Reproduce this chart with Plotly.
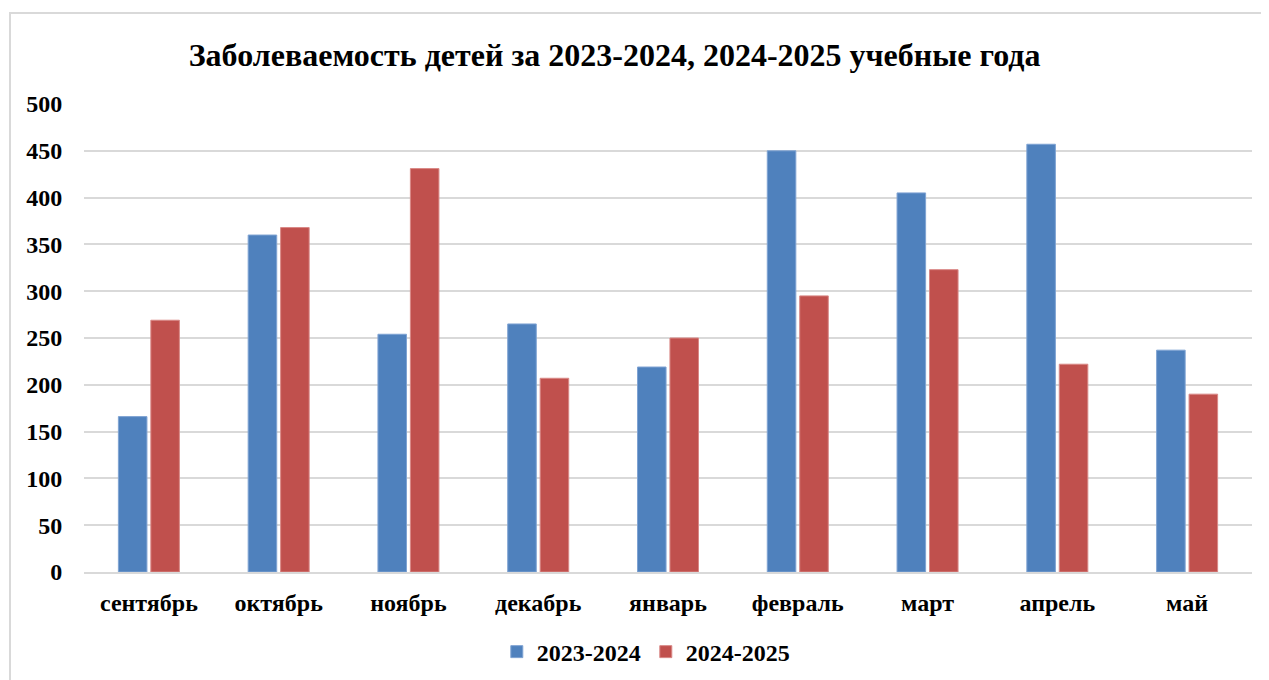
import plotly.graph_objects as go

months = ["сентябрь", "октябрь", "ноябрь", "декабрь", "январь", "февраль", "март", "апрель", "май"]
series_names = ["2023-2024", "2024-2025"]
values_2023_2024 = [166, 360, 254, 265, 219, 450, 405, 457, 237]
values_2024_2025 = [269, 368, 431, 207, 250, 295, 323, 222, 190]
y_ticks = [0, 50, 100, 150, 200, 250, 300, 350, 400, 450, 500]

FONT = "Liberation Serif, Times New Roman, serif"

fig = go.Figure()
fig.add_trace(go.Bar(x=months, y=values_2023_2024, name="<b>%s</b>" % series_names[0],
                     marker=dict(color="#4F81BD", line=dict(color="#7FA3D3", width=1))))
fig.add_trace(go.Bar(x=months, y=values_2024_2025, name="<b>%s</b>" % series_names[1],
                     marker=dict(color="#C0504D", line=dict(color="#D98886", width=1))))

fig.update_layout(
    width=1269, height=680,
    margin=dict(l=76, r=25, t=96, b=116),
    paper_bgcolor="white", plot_bgcolor="white",
    barmode="group", bargap=0.5, bargroupgap=0.12,
    font=dict(family=FONT, color="black", size=24),
    title=dict(text="<b>Заболеваемость детей за 2023-2024, 2024-2025 учебные года</b>",
               x=0.478, xanchor="center", y=0.931, yanchor="middle", yref="container",
               font=dict(family=FONT, size=32, color="black")),
    legend=dict(orientation="h", x=0.481, xanchor="center", y=-0.171, yanchor="middle",
                font=dict(family=FONT, size=24, color="black"), itemwidth=30,
                traceorder="normal"),
    showlegend=True,
)
fig.update_xaxes(showgrid=False, showline=True, linecolor="#D9D9D9", linewidth=2,
                 ticks="outside", ticklen=8, tickcolor="rgba(0,0,0,0)",
                 tickfont=dict(family=FONT, size=24, color="black"),
                 tickvals=months, ticktext=["<b>%s</b>" % m for m in months])
fig.update_yaxes(range=[0, 500], tickvals=y_ticks, ticktext=["<b>%d</b>" % v for v in y_ticks],
                 showgrid=True, gridcolor="#D9D9D9", gridwidth=2, zeroline=False,
                 ticks="outside", ticklen=16, tickcolor="rgba(0,0,0,0)",
                 tickfont=dict(family=FONT, size=24, color="black"))
fig.add_shape(type="rect", xref="paper", yref="paper",
              x0=-74/1168, x1=1.2, y0=-0.6, y1=1 + 91/468,
              line=dict(color="#D9D9D9", width=2), fillcolor="rgba(0,0,0,0)", layer="below")

fig.write_html("out.html")
